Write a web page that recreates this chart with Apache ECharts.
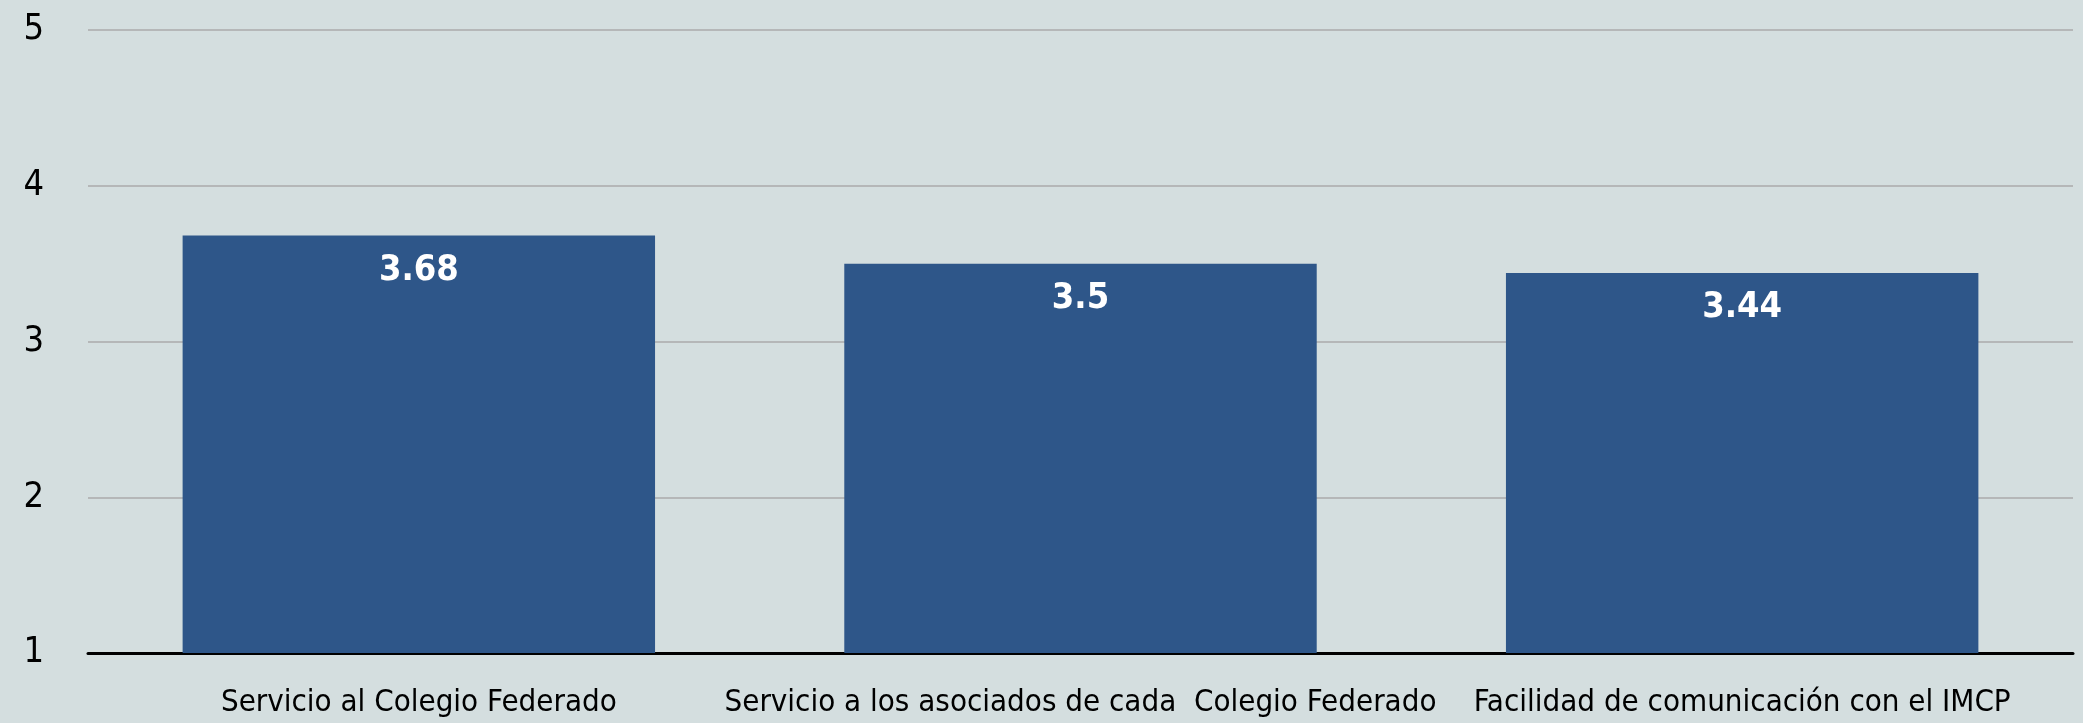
<!DOCTYPE html>
<html>
<head>
<meta charset="utf-8">
<script src="https://cdn.jsdelivr.net/npm/echarts@6/dist/echarts.min.js"></script>
<style>
  html, body { margin: 0; padding: 0; background: #d4dedf; }
  #chart { width: 2083px; height: 723px; }
</style>
</head>
<body>
<div id="chart"></div>
<script>
// datos del gráfico
const categories = [
  'Servicio al Colegio Federado',
  'Servicio a los asociados de cada  Colegio Federado',
  'Facilidad de comunicación con el IMCP'
];
const scores = [3.68, 3.5, 3.44];
const yTicks = [1, 2, 3, 4, 5];

const FONT = "'DejaVu Sans Condensed', 'Liberation Sans Narrow', sans-serif";

const chart = echarts.init(document.getElementById('chart'));

chart.setOption({
  backgroundColor: '#d4dedf',
  animation: false,
  grid: { left: 88, right: 10, top: 30, bottom: 70, containLabel: false },
  xAxis: {
    type: 'category',
    data: categories,
    axisTick: { show: false },
    axisLine: { lineStyle: { color: '#000000', width: 3 } },
    axisLabel: { color: '#000000', fontFamily: FONT, fontSize: 31, margin: 34, interval: 0 }
  },
  yAxis: {
    type: 'value',
    min: yTicks[0],
    max: yTicks[yTicks.length - 1],
    interval: 1,
    axisLine: { show: false },
    axisTick: { show: false },
    axisLabel: { color: '#000000', fontFamily: FONT, fontSize: 36, margin: 44 },
    splitLine: { lineStyle: { color: '#b5b7b8', width: 2 } }
  },
  series: [{
    type: 'bar',
    data: scores,
    barCategoryGap: '28.6%',
    itemStyle: { color: '#2e5689' },
    label: {
      show: true,
      position: 'insideTop',
      distance: 17,
      color: '#ffffff',
      fontFamily: FONT,
      fontWeight: 'bold',
      fontSize: 36
    }
  }]
});
</script>
</body>
</html>
